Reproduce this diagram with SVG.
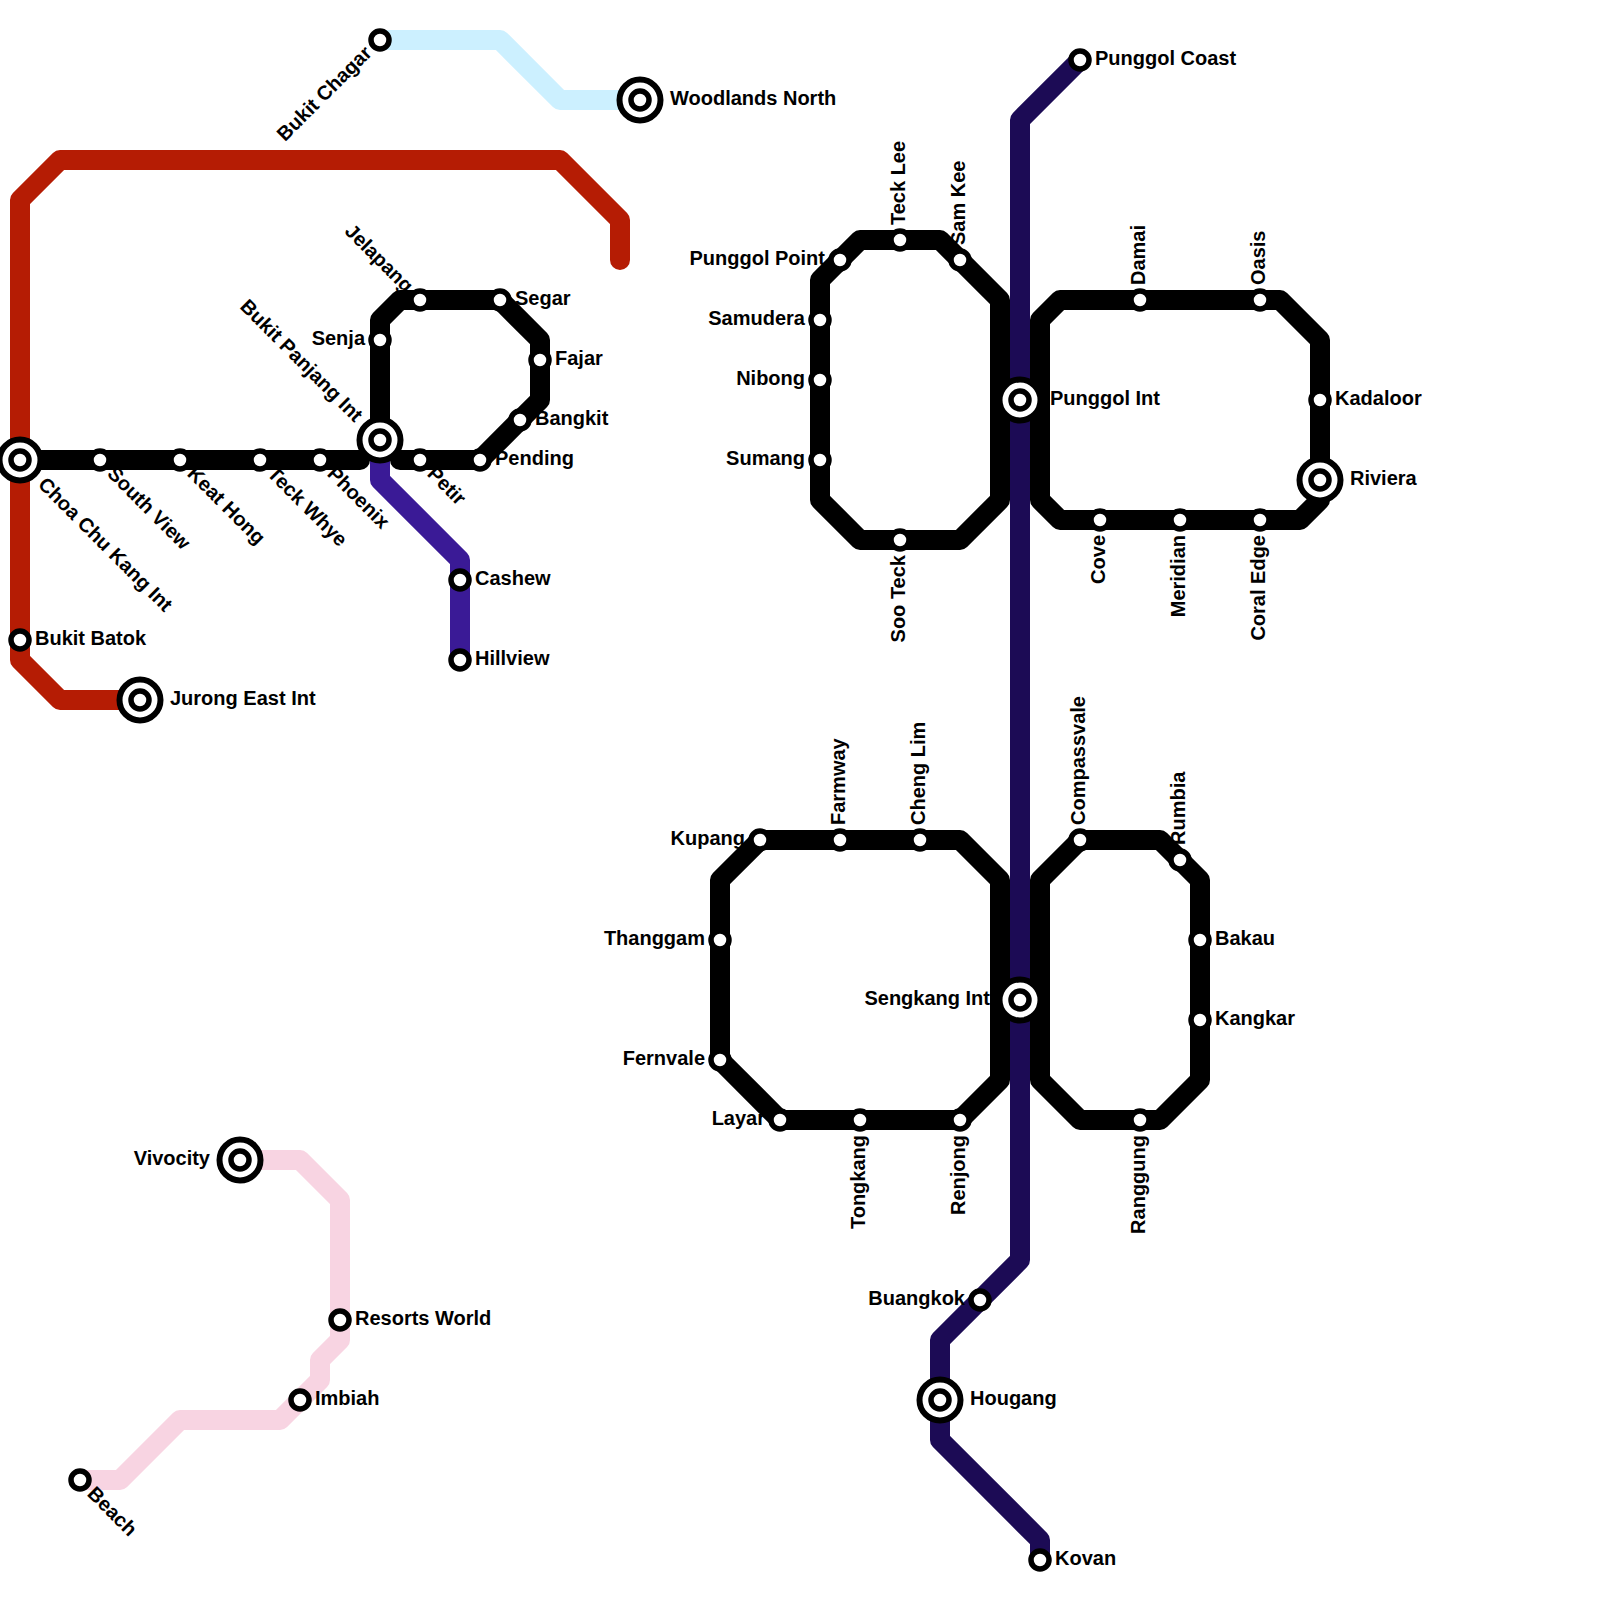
<svg xmlns="http://www.w3.org/2000/svg" width="1600" height="1600" viewBox="0 0 1600 1600">
<style>
text{font-family:"Liberation Sans",Arial,sans-serif;font-weight:700;font-size:20px;fill:#000}
.e{text-anchor:end}
.l{fill:none;stroke-width:20;stroke-linejoin:round;stroke-linecap:round}
.k{stroke:#000}.r{stroke:#b51c04}.p{stroke:#3a1a96}.n{stroke:#1c0b55}.b{stroke:#ccf0ff}.q{stroke:#f8d4e2}
.s{fill:#fff;stroke:#000;stroke-width:5.5}
.o{fill:#fff;stroke:#000;stroke-width:6}
</style>
<defs>
<g id="st"><circle class="s" r="9"/></g>
<g id="ic"><circle class="o" r="20.5"/><circle class="s" r="9"/></g>
</defs>
<rect width="1600" height="1600" fill="#fff"/>
<g id="connectors">
<path class="l b" d="M380 40H500L560 100H640"/>
<path class="l r" d="M620 260V220L560 160H60L20 200V660L60 700H140"/>
<path class="l p" d="M380 440V480L460 560V660"/>
<path class="l q" d="M240 1160H300L340 1200V1340L320 1360V1380L280 1420H180L120 1480H80"/>
<path class="l k" d="M20 460H360"/>
<path class="l k" d="M400 460H480L540 400V340L500 300H400L380 320V440"/>
<path class="l k" d="M1000 400V300L940 240H860L820 280V500L860 540H960L1000 500Z"/>
<path class="l k" d="M1040 400V320L1060 300H1280L1320 340V480L1320 500L1300 520H1060L1040 500Z"/>
<path class="l k" d="M1000 1000V880L960 840H760L720 880V1060L780 1120H960L1000 1080Z"/>
<path class="l k" d="M1040 1000V880L1080 840H1160L1200 880V1080L1160 1120H1080L1040 1080Z"/>
<path class="l n" d="M1080 60L1020 120V1260L940 1340V1440L1040 1540V1560"/>
</g>
<g id="n-bukit-chagar" transform="translate(380 40)"><use href="#st"/><text class="e" x="-15" y="5" transform="rotate(-45)">Bukit Chagar</text></g>
<g id="n-woodlands-north" transform="translate(640 100)"><use href="#ic"/><text x="30" y="5">Woodlands North</text></g>
<g id="n-choa-chu-kang" transform="translate(20 460)"><use href="#ic"/><text x="30" y="6" transform="rotate(45)">Choa Chu Kang Int</text></g>
<g id="n-south-view" transform="translate(100 460)"><use href="#st"/><text x="15" y="6" transform="rotate(45)">South View</text></g>
<g id="n-keat-hong" transform="translate(180 460)"><use href="#st"/><text x="15" y="6" transform="rotate(45)">Keat Hong</text></g>
<g id="n-teck-whye" transform="translate(260 460)"><use href="#st"/><text x="15" y="6" transform="rotate(45)">Teck Whye</text></g>
<g id="n-phoenix" transform="translate(320 460)"><use href="#st"/><text x="15" y="6" transform="rotate(45)">Phoenix</text></g>
<g id="n-bukit-panjang" transform="translate(380 440)"><use href="#ic"/><text class="e" x="-30" y="6" transform="rotate(45)">Bukit Panjang Int</text></g>
<g id="n-petir" transform="translate(420 460)"><use href="#st"/><text x="15" y="6" transform="rotate(45)">Petir</text></g>
<g id="n-pending" transform="translate(480 460)"><use href="#st"/><text x="15" y="5">Pending</text></g>
<g id="n-bangkit" transform="translate(520 420)"><use href="#st"/><text x="15" y="5">Bangkit</text></g>
<g id="n-fajar" transform="translate(540 360)"><use href="#st"/><text x="15" y="5">Fajar</text></g>
<g id="n-segar" transform="translate(500 300)"><use href="#st"/><text x="15" y="5">Segar</text></g>
<g id="n-jelapang" transform="translate(420 300)"><use href="#st"/><text class="e" x="-15" y="6" transform="rotate(45)">Jelapang</text></g>
<g id="n-senja" transform="translate(380 340)"><use href="#st"/><text class="e" x="-15" y="5">Senja</text></g>
<g id="n-cashew" transform="translate(460 580)"><use href="#st"/><text x="15" y="5">Cashew</text></g>
<g id="n-hillview" transform="translate(460 660)"><use href="#st"/><text x="15" y="5">Hillview</text></g>
<g id="n-bukit-batok" transform="translate(20 640)"><use href="#st"/><text x="15" y="5">Bukit Batok</text></g>
<g id="n-jurong-east" transform="translate(140 700)"><use href="#ic"/><text x="30" y="5">Jurong East Int</text></g>
<g id="n-punggol-coast" transform="translate(1080 60)"><use href="#st"/><text x="15" y="5">Punggol Coast</text></g>
<g id="n-punggol-point" transform="translate(840 260)"><use href="#st"/><text class="e" x="-15" y="5">Punggol Point</text></g>
<g id="n-teck-lee" transform="translate(900 240)"><use href="#st"/><text x="15" y="5" transform="rotate(-90)">Teck Lee</text></g>
<g id="n-sam-kee" transform="translate(960 260)"><use href="#st"/><text x="15" y="5" transform="rotate(-90)">Sam Kee</text></g>
<g id="n-samudera" transform="translate(820 320)"><use href="#st"/><text class="e" x="-15" y="5">Samudera</text></g>
<g id="n-nibong" transform="translate(820 380)"><use href="#st"/><text class="e" x="-15" y="5">Nibong</text></g>
<g id="n-sumang" transform="translate(820 460)"><use href="#st"/><text class="e" x="-15" y="5">Sumang</text></g>
<g id="n-soo-teck" transform="translate(900 540)"><use href="#st"/><text class="e" x="-15" y="5" transform="rotate(-90)">Soo Teck</text></g>
<g id="n-punggol-int" transform="translate(1020 400)"><use href="#ic"/><text x="30" y="5">Punggol Int</text></g>
<g id="n-damai" transform="translate(1140 300)"><use href="#st"/><text x="15" y="5" transform="rotate(-90)">Damai</text></g>
<g id="n-oasis" transform="translate(1260 300)"><use href="#st"/><text x="15" y="5" transform="rotate(-90)">Oasis</text></g>
<g id="n-kadaloor" transform="translate(1320 400)"><use href="#st"/><text x="15" y="5">Kadaloor</text></g>
<g id="n-riviera" transform="translate(1320 480)"><use href="#ic"/><text x="30" y="5">Riviera</text></g>
<g id="n-cove" transform="translate(1100 520)"><use href="#st"/><text class="e" x="-15" y="5" transform="rotate(-90)">Cove</text></g>
<g id="n-meridian" transform="translate(1180 520)"><use href="#st"/><text class="e" x="-15" y="5" transform="rotate(-90)">Meridian</text></g>
<g id="n-coral-edge" transform="translate(1260 520)"><use href="#st"/><text class="e" x="-15" y="5" transform="rotate(-90)">Coral Edge</text></g>
<g id="n-kupang" transform="translate(760 840)"><use href="#st"/><text class="e" x="-15" y="5">Kupang</text></g>
<g id="n-farmway" transform="translate(840 840)"><use href="#st"/><text x="15" y="5" transform="rotate(-90)">Farmway</text></g>
<g id="n-cheng-lim" transform="translate(920 840)"><use href="#st"/><text x="15" y="5" transform="rotate(-90)">Cheng Lim</text></g>
<g id="n-compassvale" transform="translate(1080 840)"><use href="#st"/><text x="15" y="5" transform="rotate(-90)">Compassvale</text></g>
<g id="n-rumbia" transform="translate(1180 860)"><use href="#st"/><text x="15" y="5" transform="rotate(-90)">Rumbia</text></g>
<g id="n-thanggam" transform="translate(720 940)"><use href="#st"/><text class="e" x="-15" y="5">Thanggam</text></g>
<g id="n-fernvale" transform="translate(720 1060)"><use href="#st"/><text class="e" x="-15" y="5">Fernvale</text></g>
<g id="n-layar" transform="translate(780 1120)"><use href="#st"/><text class="e" x="-15" y="5">Layar</text></g>
<g id="n-tongkang" transform="translate(860 1120)"><use href="#st"/><text class="e" x="-15" y="5" transform="rotate(-90)">Tongkang</text></g>
<g id="n-renjong" transform="translate(960 1120)"><use href="#st"/><text class="e" x="-15" y="5" transform="rotate(-90)">Renjong</text></g>
<g id="n-ranggung" transform="translate(1140 1120)"><use href="#st"/><text class="e" x="-15" y="5" transform="rotate(-90)">Ranggung</text></g>
<g id="n-bakau" transform="translate(1200 940)"><use href="#st"/><text x="15" y="5">Bakau</text></g>
<g id="n-kangkar" transform="translate(1200 1020)"><use href="#st"/><text x="15" y="5">Kangkar</text></g>
<g id="n-sengkang-int" transform="translate(1020 1000)"><use href="#ic"/><text class="e" x="-30" y="5">Sengkang Int</text></g>
<g id="n-buangkok" transform="translate(980 1300)"><use href="#st"/><text class="e" x="-15" y="5">Buangkok</text></g>
<g id="n-hougang" transform="translate(940 1400)"><use href="#ic"/><text x="30" y="5">Hougang</text></g>
<g id="n-kovan" transform="translate(1040 1560)"><use href="#st"/><text x="15" y="5">Kovan</text></g>
<g id="n-vivocity" transform="translate(240 1160)"><use href="#ic"/><text class="e" x="-30" y="5">Vivocity</text></g>
<g id="n-resorts-world" transform="translate(340 1320)"><use href="#st"/><text x="15" y="5">Resorts World</text></g>
<g id="n-imbiah" transform="translate(300 1400)"><use href="#st"/><text x="15" y="5">Imbiah</text></g>
<g id="n-beach" transform="translate(80 1480)"><use href="#st"/><text x="15" y="6" transform="rotate(45)">Beach</text></g>
</svg>
